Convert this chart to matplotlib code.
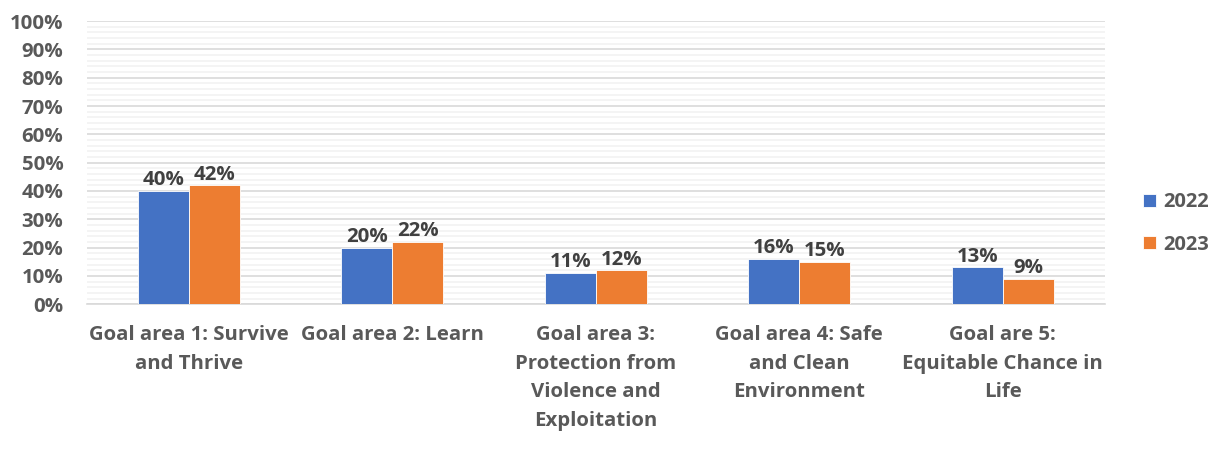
import matplotlib
matplotlib.use("Agg")
import matplotlib.pyplot as plt
import numpy as np
from matplotlib.ticker import MultipleLocator, PercentFormatter

categories = ["Goal area 1: Survive\nand Thrive", "Goal area 2: Learn",
              "Goal area 3:\nProtection from\nViolence and\nExploitation",
              "Goal area 4: Safe\nand Clean\nEnvironment",
              "Goal are 5:\nEquitable Chance in\nLife"]
series_names = ["2022", "2023"]
values_2022 = [40, 20, 11, 16, 13]
values_2023 = [42, 22, 12, 15, 9]
colors = ["#4472C4", "#ED7D31"]

FONT = ['Open Sans', 'DejaVu Sans']
plt.rcParams['font.family'] = FONT
plt.rcParams['font.weight'] = 'bold'

fig = plt.figure(figsize=(12.15, 4.5), dpi=100)
ax = fig.add_axes([0.0716, 0.324, 0.8375, 0.629])

x = np.arange(len(categories))
w = 0.25
for i, (vals, name) in enumerate([(values_2022, series_names[0]), (values_2023, series_names[1])]):
    off = (i - 0.5) * w
    bars = ax.bar(x + off, vals, w, color=colors[i], label=name, edgecolor='white', linewidth=0.6, zorder=3)
    for b, v in zip(bars, vals):
        ax.annotate(f"{v}%", (b.get_x() + b.get_width() / 2, v), xytext=(0, 0.5),
                    textcoords='offset points', ha='center', va='bottom',
                    fontsize=14.7, fontweight='bold', color='#404040')

ax.set_xlim(-0.5, len(categories) - 0.5)
ax.set_ylim(0, 100)
ax.yaxis.set_major_locator(MultipleLocator(10))
ax.yaxis.set_minor_locator(MultipleLocator(2))
ax.yaxis.set_major_formatter(PercentFormatter(decimals=0))
ax.grid(which='major', axis='y', color='#D9D9D9', linewidth=1.2, zorder=0)
ax.grid(which='minor', axis='y', color='#F2F2F2', linewidth=1.2, zorder=0)
ax.set_axisbelow(True)
for s in ['top', 'right', 'left']:
    ax.spines[s].set_visible(False)
ax.spines['bottom'].set_color('#D9D9D9')
ax.spines['bottom'].set_linewidth(1.2)
ax.tick_params(axis='both', which='both', length=0)
ax.tick_params(axis='y', labelsize=14.7, labelcolor='#595959', pad=17)
ax.set_xticks(x)
ax.set_xticklabels(categories, fontsize=14.7, color='#595959', fontweight='bold', linespacing=1.57)
ax.tick_params(axis='x', pad=15)
for t in ax.get_yticklabels():
    t.set_fontweight('bold')

leg = ax.legend(loc='center left', bbox_to_anchor=(1.03, 0.285), frameon=False,
                fontsize=14.5, labelcolor='#595959', handlelength=0.65, handleheight=0.65,
                labelspacing=1.1, handletextpad=0.35, borderaxespad=0)
for t in leg.get_texts():
    t.set_fontweight('bold')

fig.savefig("out.png", dpi=100)
